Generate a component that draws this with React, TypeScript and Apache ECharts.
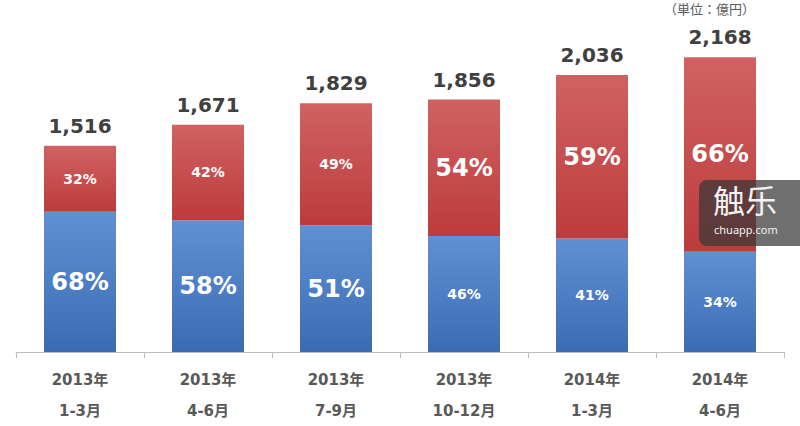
import React, { useEffect, useRef } from "react";
import * as echarts from "echarts";

const categories = ["2013年\n1-3月", "2013年\n4-6月", "2013年\n7-9月", "2013年\n10-12月", "2014年\n1-3月", "2014年\n4-6月"];
const totals = [1516, 1671, 1829, 1856, 2036, 2168];
const bluePct = [68, 58, 51, 46, 41, 34];
const redPct = [32, 42, 49, 54, 59, 66];
const blueBig = [true, true, true, false, false, false];
const redBig = [false, false, false, true, true, true];

const FONT = "'DejaVu Sans', 'Noto Sans CJK JP', sans-serif";

export default function App() {
  const ref = useRef<HTMLDivElement>(null);
  useEffect(() => {
    if (!ref.current) return;
    const chart = echarts.init(ref.current, undefined, { renderer: "svg" });
    const blueVals = totals.map((t, i) => (t * bluePct[i]) / 100);
    const redVals = totals.map((t, i) => t - blueVals[i]);
    const pctLabel = (big: boolean, pct: number) => ({
      show: true,
      position: "inside",
      formatter: pct + "%",
      color: "#ffffff",
      fontFamily: FONT,
      fontWeight: "bold",
      fontSize: big ? 24 : 14,
    });
    chart.setOption({
      animation: false,
      grid: { left: 16, right: 16, top: 12, bottom: 73, containLabel: false },
      xAxis: {
        type: "category",
        data: categories,
        axisLine: { lineStyle: { color: "#bfbfbf", width: 1 } },
        axisTick: { show: true, length: 6, lineStyle: { color: "#bfbfbf" } },
        axisLabel: {
          color: "#595959",
          fontFamily: FONT,
          fontWeight: "bold",
          fontSize: 15,
          lineHeight: 31,
          margin: 12,
        },
      },
      yAxis: { type: "value", min: 0, max: 2500, show: false, splitLine: { show: false } },
      series: [
        {
          type: "bar",
          stack: "s",
          barWidth: 72,
          data: blueVals.map((v, i) => ({ value: v, label: pctLabel(blueBig[i], bluePct[i]) })),
          itemStyle: {
            color: new echarts.graphic.LinearGradient(0, 0, 0, 1, [
              { offset: 0, color: "#6090d3" },
              { offset: 1, color: "#3b6cb3" },
            ]),
          },
        },
        {
          type: "bar",
          stack: "s",
          barWidth: 72,
          data: redVals.map((v, i) => ({ value: v, label: pctLabel(redBig[i], redPct[i]) })),
          itemStyle: {
            color: new echarts.graphic.LinearGradient(0, 0, 0, 1, [
              { offset: 0, color: "#d06262" },
              { offset: 1, color: "#bd3b3c" },
            ]),
          },
        },
        {
          type: "bar",
          barWidth: 72,
          barGap: "-100%",
          z: 0,
          data: totals,
          itemStyle: { color: "rgba(0,0,0,0)" },
          label: {
            show: true,
            position: "top",
            distance: 10,
            color: "#404040",
            fontFamily: FONT,
            fontWeight: "bold",
            fontSize: 20,
            formatter: (p: any) => p.value.toLocaleString("en-US"),
          },
        },
      ],
      graphic: [
        {
          type: "text",
          left: 664,
          top: 2,
          style: { text: "（単位：億円）", fill: "#595959", font: "13px 'Noto Sans CJK JP', sans-serif" },
        },
        {
          type: "rect",
          shape: { x: 699, y: 180, width: 110, height: 66, r: 8 },
          style: { fill: "rgba(55,55,55,0.72)" },
          z: 100,
        },
        {
          type: "text",
          x: 713,
          y: 183,
          z: 101,
          style: { text: "触乐", fill: "#f2f2f2", font: "32px 'Noto Sans CJK SC', sans-serif" },
        },
        {
          type: "text",
          x: 714,
          y: 224,
          z: 101,
          style: { text: "chuapp.com", fill: "#f2f2f2", font: "11px 'Noto Sans', sans-serif" },
        },
      ],
    });
    return () => chart.dispose();
  }, []);
  return <div ref={ref} style={{ width: 800, height: 426, position: "absolute", left: 0, top: 0 }} />;
}
